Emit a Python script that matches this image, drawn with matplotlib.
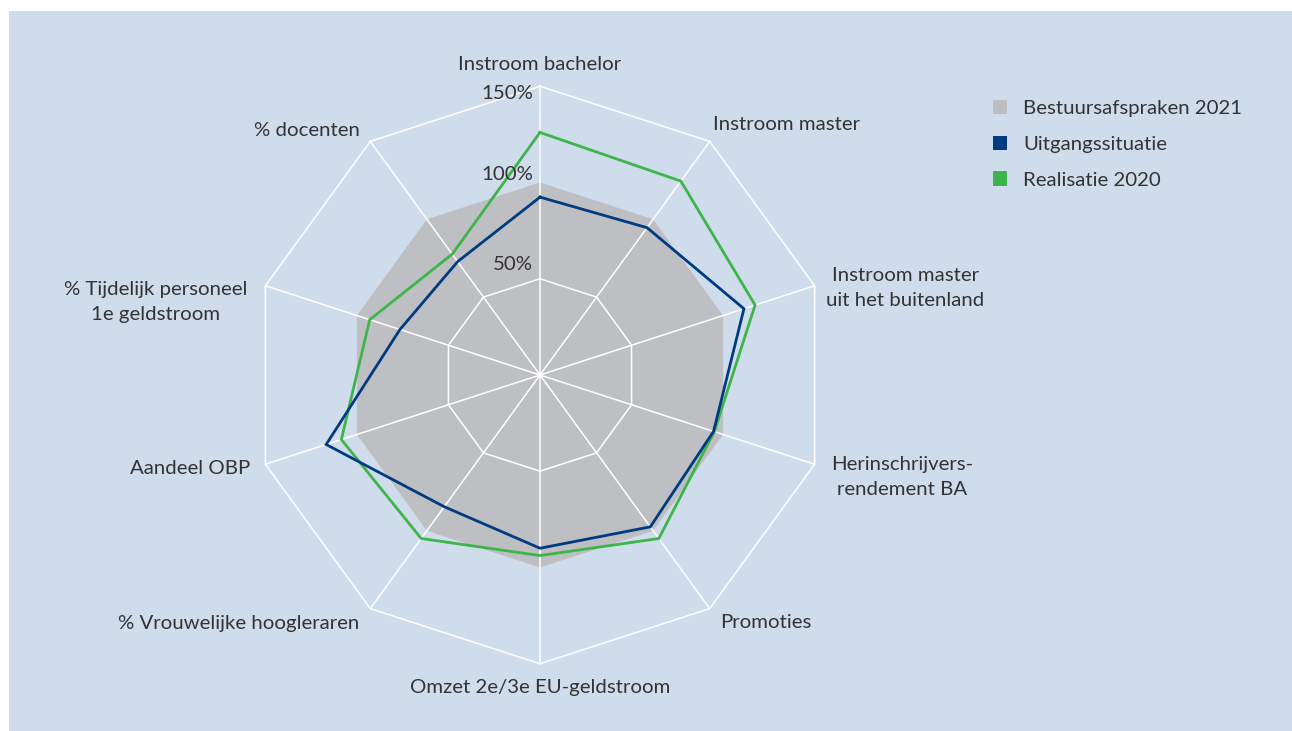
import numpy as np
import matplotlib
matplotlib.use("Agg")
import matplotlib.pyplot as plt
from matplotlib.patches import Rectangle, Patch

# ---------------- data ----------------
categories = [
    "Instroom bachelor",
    "Instroom master",
    "Instroom master\nuit het buitenland",
    "Herinschrijvers-\nrendement BA",
    "Promoties",
    "Omzet 2e/3e EU-geldstroom",
    "% Vrouwelijke hoogleraren",
    "Aandeel OBP",
    "% Tijdelijk personeel\n1e geldstroom",
    "% docenten",
]
bestuursafspraken_2021 = [100, 100, 100, 100, 100, 100, 100, 100, 100, 100]
uitgangssituatie = [92.4, 94.6, 111.4, 94.8, 97.5, 90.0, 84.6, 116.8, 76.5, 72.8]
realisatie_2020 = [126.0, 124.5, 117.5, 95.2, 105.0, 93.8, 105.0, 108.5, 93.0, 77.6]
grid_levels = [50, 100, 150]
tick_labels = ["50%", "100%", "150%"]
series_names = ["Bestuursafspraken 2021", "Uitgangssituatie", "Realisatie 2020"]

# ---------------- style ----------------
BG = "#cfdcec"
GRAY = "#bebfc3"
NAVY = "#003a80"
GREEN = "#3db54a"
TXT = "#333333"
FONT = "Lato"
FS = 14.7

W, H = 1292, 731
CX, CY = 540, 375          # centre in pixels (y from top)
S = 1.925                   # pixels per percent

fig = plt.figure(figsize=(W / 100, H / 100), dpi=100, facecolor="white")
ax = fig.add_axes([0, 0, 1, 1])
ax.set_xlim(-CX / S, (W - CX) / S)
ax.set_ylim(-(H - CY) / S, CY / S)
ax.axis("off")
ax.add_patch(Rectangle((9 / W, 0), 1, 1 - 11 / H, transform=fig.transFigure,
                       facecolor=BG, edgecolor="none", zorder=0))


def px(x, y):
    """pixel position (y from top) -> data coordinates"""
    return (x - CX) / S, (CY - y) / S


n = len(categories)
theta = np.arange(n) * 2 * np.pi / n


def xy(vals):
    v = np.asarray(vals, dtype=float)
    x = v * np.sin(theta)
    y = v * np.cos(theta)
    return np.append(x, x[0]), np.append(y, y[0])


# gray area
gx, gy = xy(bestuursafspraken_2021)
ax.fill(gx, gy, color=GRAY, zorder=1, lw=0)

# grid: spokes + decagons (the 100% ring coincides with gray edge)
rmax = max(grid_levels)
for t in theta:
    ax.plot([0, rmax * np.sin(t)], [0, rmax * np.cos(t)], color="white", lw=1.1, zorder=2)
for lvl in grid_levels:
    if lvl == 100:
        continue
    lx, ly = xy([lvl] * n)
    ax.plot(lx, ly, color="white", lw=1.1, zorder=2)

# series lines
rx, ry = xy(realisatie_2020)
ax.plot(rx, ry, color=GREEN, lw=2.0, zorder=3, solid_joinstyle="miter")
ux, uy = xy(uitgangssituatie)
ax.plot(ux, uy, color=NAVY, lw=2.0, zorder=4, solid_joinstyle="miter")

# radial tick labels
tick_px = [(533, 264.5), (533, 174), (533, 93.5)]
for lab, (tx, ty) in zip(tick_labels, tick_px):
    ax.text(*px(tx, ty), lab, ha="right", va="center", fontsize=FS,
            color=TXT, family=FONT, zorder=5)

# category labels
label_pos = [
    (540, 65, "center"),
    (713, 125, "left"),
    (826, 288, "left"),
    (831, 477, "left"),
    (720, 623, "left"),
    (540, 687, "center"),
    (359, 623, "right"),
    (250, 469, "right"),
    (247, 302, "right"),
    (360, 130, "right"),
]
for lab, (lx, ly, ha) in zip(categories, label_pos):
    ax.text(*px(lx, ly), lab, ha=ha, va="center", multialignment="center",
            fontsize=FS, color=TXT, family=FONT, linespacing=1.6, zorder=5)

# legend
handles = [Patch(facecolor=GRAY, edgecolor="none"),
           Patch(facecolor=NAVY, edgecolor="none"),
           Patch(facecolor=GREEN, edgecolor="none")]
leg = ax.legend(handles, series_names, loc="upper left",
                bbox_to_anchor=(993 / W, 1 - 100 / H), bbox_transform=fig.transFigure,
                frameon=False, handlelength=0.7, handleheight=0.7,
                handletextpad=0.78, labelspacing=0.9, borderpad=0,
                borderaxespad=0, prop={"family": FONT, "size": FS})
for t in leg.get_texts():
    t.set_color(TXT)

fig.savefig("out.png", dpi=100, facecolor="white")
